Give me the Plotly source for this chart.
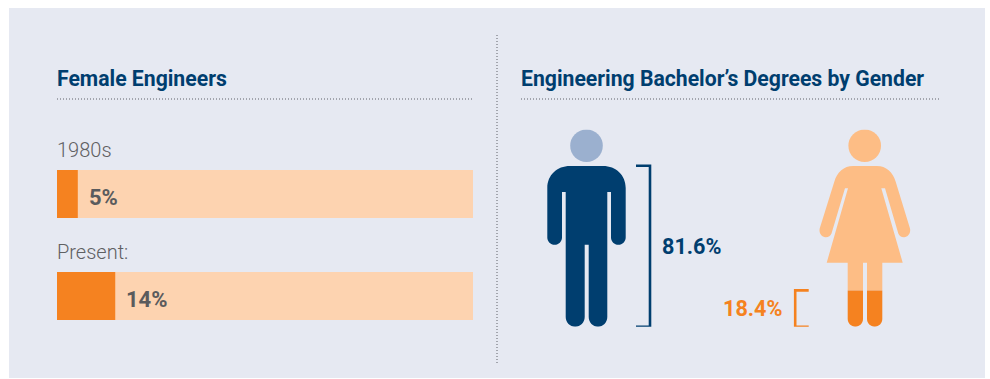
import plotly.graph_objects as go

# Share of female engineers
periods = ["1980s", "Present:"]
female_share = [5, 14]
bar_total = [100, 100]

# Engineering bachelor's degrees by gender
male_degrees = 81.6
female_degrees = 18.4

W, H = 990, 379
PANEL = "#e6e9f2"
NAVY = "#003e6f"
NAVY_LIGHT = "#9bb0cf"
ORANGE = "#f58220"
ORANGE_BAR = "#fdd3b0"
ORANGE_FIG = "#fdbd85"
GREY = "#5a5b5d"
DOTS = "#5f6168"
HEAD = "Roboto"

# The pictograms stand on a 0-100 height scale between these page rows
FIG_FOOT, FIG_TOP = 326.7, 129.5


def h(row):
    """Page row to height percent on the pictogram axis."""
    return (FIG_FOOT - row) / (FIG_FOOT - FIG_TOP) * 100


def row(pct):
    return FIG_FOOT - pct / 100 * (FIG_FOOT - FIG_TOP)


def path(*steps):
    """Build an SVG path from (command, x, row, ...) steps."""
    out = []
    for step in steps:
        cmd, vals = step[0], step[1:]
        pts = [f"{vals[i]:.2f},{h(vals[i + 1]):.3f}" for i in range(0, len(vals), 2)]
        out.append(cmd + " ".join(pts))
    return " ".join(out) + " Z"


def leg(x0, x1, top, bottom, rounded=True):
    """A straight leg, optionally with a rounded foot."""
    if not rounded:
        return path(("M", x0, top), ("L", x1, top), ("L", x1, bottom), ("L", x0, bottom))
    r = (x1 - x0) / 2
    k = r * 0.55
    return path(
        ("M", x0, top), ("L", x1, top), ("L", x1, bottom - r),
        ("C", x1, bottom - r + k, x1 - r + k, bottom, x1 - r, bottom),
        ("C", x0 + r - k, bottom, x0, bottom - r + k, x0, bottom - r),
    )


def circle(cx, cy, r, color):
    return dict(type="circle", xref="x2", yref="y2", x0=cx - r, x1=cx + r,
                y0=h(cy - r), y1=h(cy + r), fillcolor=color, line_width=0, layer="above")


def solid(d, color):
    return dict(type="path", xref="x2", yref="y2", path=d, fillcolor=color,
                line_width=0, layer="above")


def dotted(x0, y0, x1, y1):
    return dict(type="line", xref="paper", yref="paper", x0=x0 / W, x1=x1 / W,
                y0=1 - y0 / H, y1=1 - y1 / H, layer="above",
                line=dict(color=DOTS, width=1, dash="1px,2px"))


def bracket(x_open, x_spine, pct, color):
    """Square bracket spanning 0..pct of the pictogram height."""
    return go.Scatter(x=[x_open, x_spine, x_spine, x_open], y=[pct, pct, 0, 0],
                      xaxis="x2", yaxis="y2", mode="lines", hoverinfo="skip",
                      line=dict(width=2.6, color=color), showlegend=False)


man_body = path(
    ("M", 547.3, 188), ("C", 547.3, 175, 557, 166, 570, 166), ("L", 603, 166),
    ("C", 616, 166, 625.7, 175, 625.7, 188), ("L", 625.7, 237.4),
    ("C", 625.7, 241.5, 622.4, 244.7, 618.4, 244.7), ("C", 614.3, 244.7, 611, 241.5, 611, 237.4),
    ("L", 611, 192), ("L", 607.3, 192), ("L", 607.3, 317),
    ("C", 607.3, 322.5, 603, 326.7, 598, 326.7), ("C", 593, 326.7, 588.7, 322.5, 588.7, 317),
    ("L", 588.7, 244.7), ("L", 584.7, 244.7), ("L", 584.7, 317),
    ("C", 584.7, 322.5, 580.4, 326.7, 575.2, 326.7), ("C", 570, 326.7, 565.7, 322.5, 565.7, 317),
    ("L", 565.7, 192), ("L", 562, 192), ("L", 562, 237.4),
    ("C", 562, 241.5, 558.7, 244.7, 554.7, 244.7), ("C", 550.6, 244.7, 547.3, 241.5, 547.3, 237.4),
)

woman_body = path(
    ("M", 834.3, 181.7), ("C", 837, 172, 844, 166, 853, 166), ("L", 877, 166),
    ("C", 886, 166, 893, 172, 895.7, 181.7), ("L", 910, 228.5),
    ("C", 911, 233, 908, 237, 904.3, 237.3), ("C", 901.5, 237.5, 899.2, 236, 898.3, 233.5),
    ("L", 885, 188.3), ("L", 881.3, 188.3), ("L", 902.7, 262.7), ("L", 826.7, 262.7),
    ("L", 848, 188.3), ("L", 845, 188.3), ("L", 831.5, 233.5),
    ("C", 830.6, 236, 828.2, 237.5, 825.4, 237.3), ("C", 821.6, 237, 818.7, 233, 819.7, 228.5),
)

LEGS = [(847.7, 863), (867, 882.3)]
woman_legs = [leg(a, b, 262, row(female_degrees), rounded=False) for a, b in LEGS]
woman_feet = [leg(a, b, row(female_degrees), FIG_FOOT) for a, b in LEGS]

fig = go.Figure()

fig.add_bar(y=periods, x=bar_total, orientation="h", marker_color=ORANGE_BAR, marker_line_width=0,
            hoverinfo="skip", showlegend=False)
fig.add_bar(y=periods, x=female_share, orientation="h", marker_color=ORANGE, marker_line_width=0,
            showlegend=False)

fig.add_trace(bracket(636, 650, male_degrees, NAVY))
fig.add_trace(bracket(808.7, 795.2, female_degrees, ORANGE))

annotations = []
for period, share in zip(periods, female_share):
    annotations.append(dict(x=share, y=period, xref="x", yref="y", xanchor="left", yanchor="middle",
                            xshift=9, yshift=-3, showarrow=False, text=f"<b>{share}%</b>",
                            font=dict(family=HEAD, size=22, color=GREY)))
    annotations.append(dict(x=0, y=period, xref="x", yref="y", xanchor="left", yanchor="middle",
                            xshift=-2, yshift=44, showarrow=False, text=period,
                            font=dict(family=HEAD, size=20, weight=300, color="#5f6062")))

annotations += [
    dict(x=55 / W, y=1 - 78 / H, xref="paper", yref="paper", xanchor="left", yanchor="middle",
         showarrow=False, text="<b>Female Engineers</b>", font=dict(family=HEAD, size=21.2, color=NAVY)),
    dict(x=519 / W, y=1 - 78 / H, xref="paper", yref="paper", xanchor="left", yanchor="middle",
         showarrow=False, text="<b>Engineering Bachelor’s Degrees by Gender</b>",
         font=dict(family=HEAD, size=21.2, color=NAVY)),
    dict(x=660, y=male_degrees / 2, xref="x2", yref="y2", xanchor="left", yanchor="middle",
         showarrow=False, text=f"<b>{male_degrees}%</b>", font=dict(family=HEAD, size=21.6, color=NAVY)),
    dict(x=784, y=female_degrees / 2, xref="x2", yref="y2", xanchor="right", yanchor="middle",
         showarrow=False, text=f"<b>{female_degrees}%</b>", font=dict(family=HEAD, size=21.6, color=ORANGE)),
]

shapes = [
    dict(type="rect", xref="paper", yref="paper", x0=9 / W, x1=985 / W, y0=1 - 378 / H, y1=1 - 8 / H,
         fillcolor=PANEL, line_width=0, layer="below"),
    dotted(57, 99, 474, 99),
    dotted(521, 99, 939, 99),
    dotted(497, 35, 497, 363),
    circle(586.5, 145.7, 16.3, NAVY_LIGHT),
    solid(man_body, NAVY),
    circle(864.7, 145.7, 16.3, ORANGE_FIG),
    solid(woman_body, ORANGE_FIG),
]
shapes += [solid(d, ORANGE_FIG) for d in woman_legs]
shapes += [solid(d, ORANGE) for d in woman_feet]

fig.update_layout(
    width=W, height=H, margin=dict(l=0, r=0, t=0, b=0),
    paper_bgcolor="white", plot_bgcolor="rgba(0,0,0,0)",
    barmode="overlay", bargap=1 - 48 / 102,
    xaxis=dict(domain=[57 / W, 473 / W], range=[0, 100], visible=False, fixedrange=True),
    yaxis=dict(domain=[1 - 347 / H, 1 - 143 / H], range=[1.5, -0.5], type="category",
               categoryorder="array", categoryarray=periods, visible=False, fixedrange=True),
    xaxis2=dict(domain=[0, 1], range=[0, W], visible=False, fixedrange=True, anchor="y2"),
    yaxis2=dict(domain=[1 - FIG_FOOT / H, 1 - FIG_TOP / H], range=[0, 100], visible=False,
                fixedrange=True, anchor="x2"),
    shapes=shapes,
    annotations=annotations,
)

fig.write_html("out.html", config=dict(displayModeBar=False))
